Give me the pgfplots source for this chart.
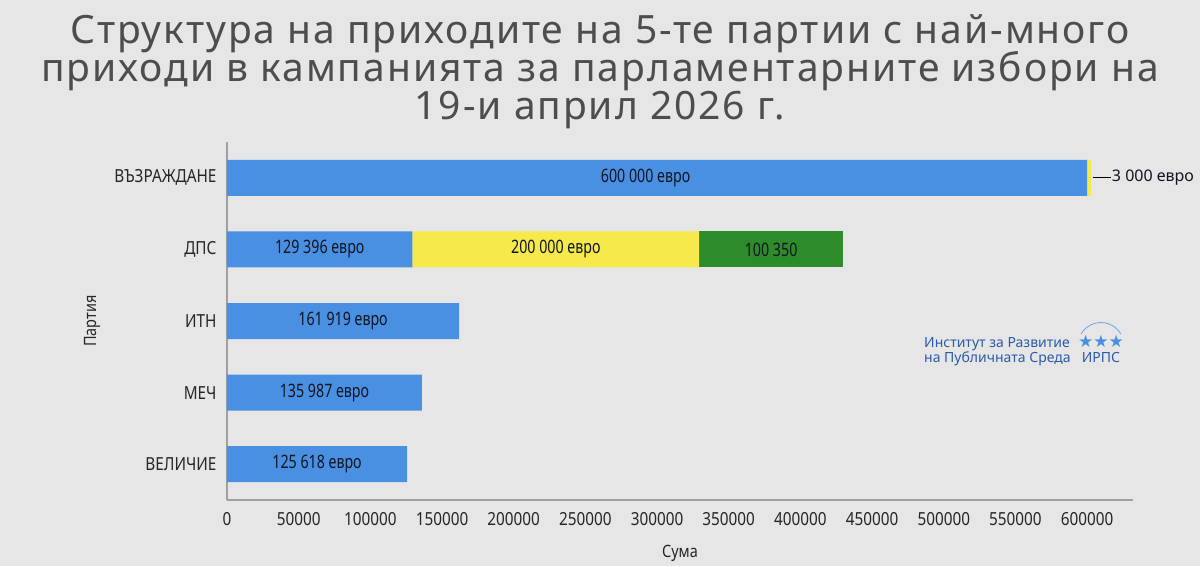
\documentclass[border=0pt]{standalone}
\usepackage{fontspec}
\setmainfont[Script=Cyrillic,Language=Bulgarian]{Noto Sans}
\newfontfamily\condfont[Script=Cyrillic,Language=Bulgarian,FakeStretch=0.85]{Noto Sans}
\newfontfamily\labfont[Script=Cyrillic,Language=Bulgarian,FakeStretch=0.77]{Noto Sans}
\newfontfamily\titlefont[Script=Cyrillic,Language=Bulgarian,LetterSpace=5]{Noto Sans}
\newfontfamily\plainfont{Noto Sans}
\newfontfamily\symfont{DejaVu Sans}
\usepackage{pgfplots}
\pgfplotsset{compat=1.18}
\definecolor{bg}{HTML}{E6E6E6}
\definecolor{cblue}{HTML}{4A90E2}
\definecolor{cyellow}{HTML}{F5E94B}
\definecolor{cgreen}{HTML}{2E8B2A}
\definecolor{axgray}{HTML}{A0A0A0}
\definecolor{titlegray}{HTML}{4D4D4D}
\definecolor{logoblue}{HTML}{2B5BA8}
\definecolor{labtext}{HTML}{111622}
\tikzset{barlab/.style={font=\labfont\fontsize{18.5}{20}\selectfont, text=labtext}}
\begin{document}
\begin{tikzpicture}
\fill[bg] (-227pt,-66pt) rectangle (973pt,500pt);
% title
\node[anchor=base, font=\titlefont\fontsize{39}{40}\selectfont, text=titlegray, inner sep=0pt] at (373pt,456pt) {Структура на приходите на 5-те партии с най-много};
\node[anchor=base, font=\titlefont\fontsize{39}{40}\selectfont, text=titlegray, inner sep=0pt] at (373pt,418pt) {приходи в кампанията за парламентарните избори на};
\node[anchor=base, font=\titlefont\fontsize{39}{40}\selectfont, text=titlegray, inner sep=0pt] at (373pt,381pt) {19-и април 2026 г.};
\begin{axis}[
  at={(0pt,0pt)}, anchor=south west,
  xbar stacked, bar width=36pt,
  width=906pt, height=358pt, scale only axis,
  xmin=0, xmax=632000, ymin=-0.5, ymax=4.5,
  ytick={0,1,2,3,4},
  yticklabels={ВЕЛИЧИЕ,МЕЧ,ИТН,ДПС,ВЪЗРАЖДАНЕ},
  xtick={0,50000,100000,150000,200000,250000,300000,350000,400000,450000,500000,550000,600000},
  xticklabels={0,50000,100000,150000,200000,250000,300000,350000,400000,450000,500000,550000,600000},
  scaled x ticks=false,
  ticklabel style={font=\condfont\fontsize{18}{20}\selectfont, text=black!85},
  xticklabel style={yshift=-9pt},
  yticklabel style={xshift=-7pt},
  major tick length=0pt,
  axis x line*=bottom, axis y line*=left,
  axis line style={draw=axgray, line width=1.5pt},
  xlabel={Сума}, ylabel={Партия},
  label style={font=\condfont\fontsize{17}{19}\selectfont, text=black!85},
  xlabel style={at={(rel axis cs:0.5,0)}, anchor=center, yshift=-53pt},
  ylabel style={at={(rel axis cs:0,0.5)}, anchor=center, yshift=135pt},
  clip=false,
]
\addplot[fill=cblue, draw=none] coordinates {(125618,0) (135987,1) (161919,2) (129396,3) (600000,4)};
\addplot[fill=cyellow, draw=none] coordinates {(0,0) (0,1) (0,2) (200000,3) (3000,4)};
\addplot[fill=cgreen, draw=none] coordinates {(0,0) (0,1) (0,2) (100350,3) (0,4)};
\coordinate (L1) at (axis cs:292000,4);
\coordinate (L2) at (axis cs:64698,3);
\coordinate (L3) at (axis cs:229396,3);
\coordinate (L4) at (axis cs:379571,3);
\coordinate (L5) at (axis cs:80960,2);
\coordinate (L6) at (axis cs:67994,1);
\coordinate (L7) at (axis cs:62809,0);
\coordinate (LA) at (axis cs:604000,4);
\coordinate (LB) at (axis cs:616500,4);
\end{axis}
\node[barlab] at (L1) {600 000 евро};
\node[barlab] at (L2) {129 396 евро};
\node[barlab] at (L3) {200 000 евро};
\node[barlab] at (L4) {100 350};
\node[barlab] at (L5) {161 919 евро};
\node[barlab] at (L6) {135 987 евро};
\node[barlab] at (L7) {125 618 евро};
\draw[black, line width=1pt] (LA) -- (LB);
\node[anchor=west, font=\plainfont\fontsize{16}{18}\selectfont, text=labtext, inner sep=1pt] at (LB) {3 000 евро};
% logo
\node[anchor=base west, font=\plainfont\fontsize{14}{15}\selectfont, text=logoblue, inner sep=0pt] at (697pt,153pt) {Институт за Развитие};
\node[anchor=base west, font=\plainfont\fontsize{14}{15}\selectfont, text=logoblue, inner sep=0pt] at (697pt,138pt) {на Публичната Среда};
\node[font=\symfont\fontsize{17}{18}\selectfont, text=cblue, inner sep=0pt] at (874pt,159pt) {★★★};
\draw[cblue!80, line width=0.8pt] (854pt,166pt) arc[start angle=150, end angle=30, radius=23pt];
\node[anchor=base, font=\plainfont\fontsize{14}{15}\selectfont, text=logoblue, inner sep=0pt] at (874pt,138pt) {ИРПС};
\end{tikzpicture}
\end{document}
